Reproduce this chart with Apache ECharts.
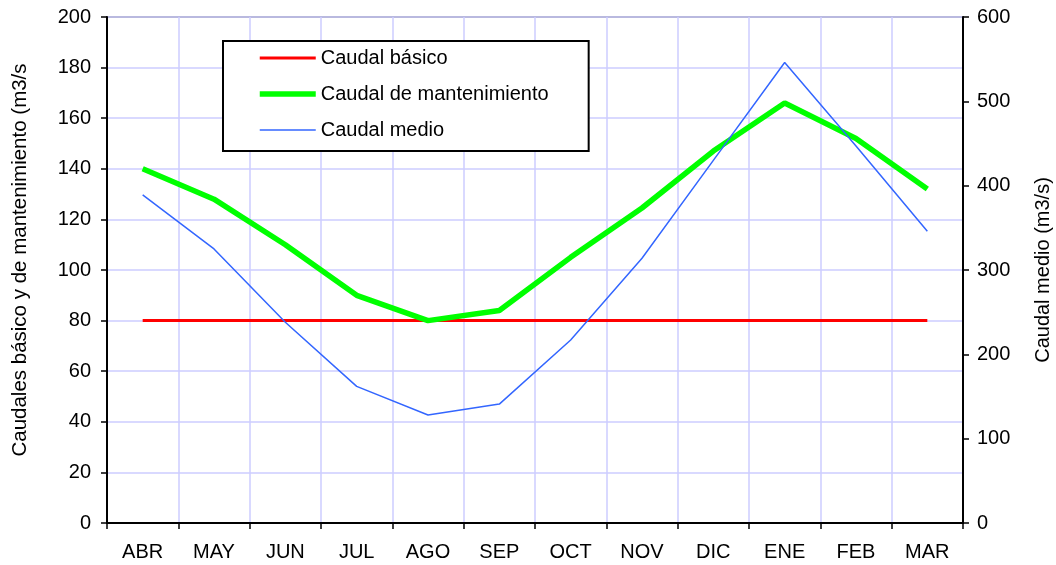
<!DOCTYPE html>
<html>
<head>
<meta charset="utf-8">
<script src="https://cdn.jsdelivr.net/npm/echarts@6/dist/echarts.min.js"></script>
<style>html,body{margin:0;padding:0;background:#fff;}#c{width:1056px;height:565px;}</style>
</head>
<body>
<div id="c"></div>
<script>
const categories = ['ABR','MAY','JUN','JUL','AGO','SEP','OCT','NOV','DIC','ENE','FEB','MAR'];
const caudalBasico = [80,80,80,80,80,80,80,80,80,80,80,80];
const caudalMantenimiento = [140,128,110,90,80,84,105,124.5,147,166,152,132];
const caudalMedio = [389,325,238,162,128,141,217,314,430,546,447,346];

const font = 'Liberation Sans, Arial, sans-serif';
const chart = echarts.init(document.getElementById('c'));
chart.setOption({
  animation: false,
  backgroundColor: '#fff',
  textStyle: { fontFamily: font },
  grid: { left: 107, right: 93, top: 17, bottom: 42, outerBoundsMode: 'none', containLabel: false,
    show: true, borderColor: '#808080', borderWidth: 2, backgroundColor: 'transparent' },
  legend: {
    orient: 'vertical', left: 223, top: 41,
    backgroundColor: '#fff', borderColor: '#000', borderWidth: 2,
    padding: [7, 40, 11, 34], itemGap: 16, itemWidth: 56, itemHeight: 14,
    itemStyle: { color: 'transparent', borderWidth: 0, opacity: 0 },
    textStyle: { fontSize: 20, color: '#000', fontFamily: font, padding: [0, 0, 0, 0] },
    data: [
      { name: 'Caudal básico', lineStyle: { width: 3 } },
      { name: 'Caudal de mantenimiento', lineStyle: { width: 5.5 } },
      { name: 'Caudal medio', lineStyle: { width: 1.5 } }
    ]
  },
  xAxis: {
    type: 'category', data: categories, boundaryGap: true,
    axisLine: { lineStyle: { color: '#000', width: 2 } },
    axisTick: { show: true, length: 6, lineStyle: { color: '#000', width: 1.5 } },
    axisLabel: { color: '#000', fontSize: 20, margin: 19, fontFamily: font },
    splitLine: { show: true, lineStyle: { color: '#ccccff', width: 1.5 } }
  },
  yAxis: [{
    type: 'value', min: 0, max: 200, interval: 20,
    name: 'Caudales básico y de mantenimiento (m3/s', nameLocation: 'middle', nameGap: 76,
    nameTextStyle: { fontSize: 20.5, color: '#000', fontFamily: font, padding: [0, 0, 0, 20] },
    axisLine: { show: true, lineStyle: { color: '#000', width: 2 } },
    axisTick: { show: true, length: 6, lineStyle: { color: '#000', width: 1.5 } },
    axisLabel: { color: '#000', fontSize: 20, margin: 16, fontFamily: font },
    splitLine: { show: true, lineStyle: { color: '#ccccff', width: 1.5 } }
  }, {
    type: 'value', min: 0, max: 600, interval: 100, position: 'right',
    name: 'Caudal medio (m3/s)', nameLocation: 'middle', nameGap: 70, nameRotate: 90,
    nameTextStyle: { fontSize: 20, color: '#000', fontFamily: font },
    axisLine: { show: true, lineStyle: { color: '#000', width: 2 } },
    axisTick: { show: true, length: 6, lineStyle: { color: '#000', width: 1.5 } },
    axisLabel: { color: '#000', fontSize: 20, margin: 14, fontFamily: font },
    splitLine: { show: false }
  }],
  series: [{
    name: 'Caudal básico', type: 'line', data: caudalBasico, yAxisIndex: 0,
    symbol: 'none', lineStyle: { color: '#ff0000', width: 3 }, itemStyle: { color: '#ff0000' }, z: 3
  }, {
    name: 'Caudal de mantenimiento', type: 'line', data: caudalMantenimiento, yAxisIndex: 0,
    symbol: 'none', lineStyle: { color: '#00ff00', width: 5.5 }, itemStyle: { color: '#00ff00' }, z: 4
  }, {
    name: 'Caudal medio', type: 'line', data: caudalMedio, yAxisIndex: 1,
    symbol: 'none', lineStyle: { color: '#3366ff', width: 1.5 }, itemStyle: { color: '#3366ff' }, z: 5
  }]
});
</script>
</body>
</html>
